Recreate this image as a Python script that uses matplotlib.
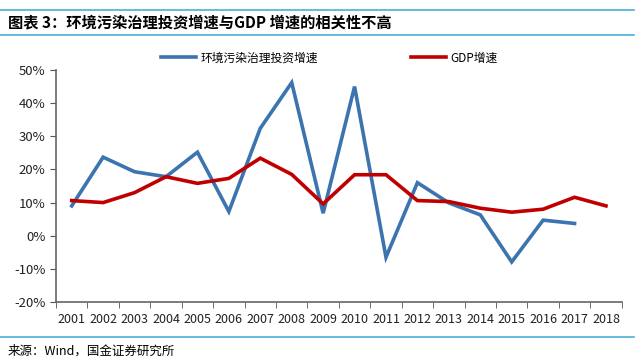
import numpy as np
import matplotlib.pyplot as plt
from matplotlib.lines import Line2D
from matplotlib.ticker import FuncFormatter

plt.rcParams['font.family'] = ['Noto Sans CJK SC', 'DejaVu Sans']

years = [str(y) for y in range(2001, 2019)]
invest_growth = [9.0, 23.7, 19.3, 17.8, 25.2, 7.3, 32.4, 46.2, 6.8, 45.0,
                 -6.5, 16.0, 9.9, 6.3, -7.9, 4.7, 3.7, np.nan]
gdp_growth = [10.6, 10.0, 13.0, 17.8, 15.8, 17.3, 23.4, 18.5, 9.6, 18.4,
              18.4, 10.6, 10.3, 8.3, 7.1, 8.0, 11.6, 9.0]

blue = '#3B74AE'
red = '#C00000'
rule = '#4AAEDB'

W, H = 639, 360
fig = plt.figure(figsize=(W / 100, H / 100), dpi=100)
ax = fig.add_axes([56 / W, 1 - 302 / H, (621.7 - 56) / W, (302 - 70) / H])

x = np.arange(len(years))
ax.plot(x, invest_growth, color=blue, lw=2.6, solid_joinstyle='miter')
ax.plot(x, gdp_growth, color=red, lw=2.6, solid_joinstyle='miter')

ax.set_xlim(-0.5, len(years) - 0.5)
ax.set_ylim(-20, 50)
ax.set_yticks(range(-20, 51, 10))
ax.yaxis.set_major_formatter(FuncFormatter(lambda v, _: f'{v:.0f}%'))
ax.set_xticks(x)
ax.set_xticklabels(years)
ax.set_xticks(np.arange(-0.5, len(years)), minor=True)
ax.tick_params(axis='x', which='major', length=0, pad=8, labelsize=9, colors='#222222')
ax.tick_params(axis='x', which='minor', length=4, direction='out', color='#555555')
ax.tick_params(axis='y', length=4, direction='out', color='#555555', labelsize=9.5,
               colors='#222222')
for s in ['top', 'right']:
    ax.spines[s].set_visible(False)
for s in ['left', 'bottom']:
    ax.spines[s].set_color('#666666')
    ax.spines[s].set_linewidth(1.2)

# legend
h1 = Line2D([], [], color=blue, lw=2.6)
h2 = Line2D([], [], color=red, lw=2.6)
fig.legend([h1], ['环境污染治理投资增速'], loc='center left', bbox_to_anchor=(150 / W, 1 - 58 / H),
           frameon=False, fontsize=8.5, handlelength=3, handletextpad=0.4)
fig.legend([h2], ['GDP增速'], loc='center left', bbox_to_anchor=(400 / W, 1 - 58 / H),
           frameon=False, fontsize=8.5, handlelength=3, handletextpad=0.4)

# title and rules
fig.text(8 / W, 1 - 22 / H, '图表 3：环境污染治理投资增速与GDP 增速的相关性不高',
         fontsize=11, fontweight='bold', va='center', ha='left')
for yy in [10, 35, 337]:
    fig.add_artist(Line2D([0, 634 / W], [1 - yy / H] * 2, color=rule, lw=1.2))
fig.text(8 / W, 1 - 351 / H, '来源：Wind，国金证券研究所', fontsize=9, va='center', ha='left')

fig.savefig('out.png', dpi=100)
